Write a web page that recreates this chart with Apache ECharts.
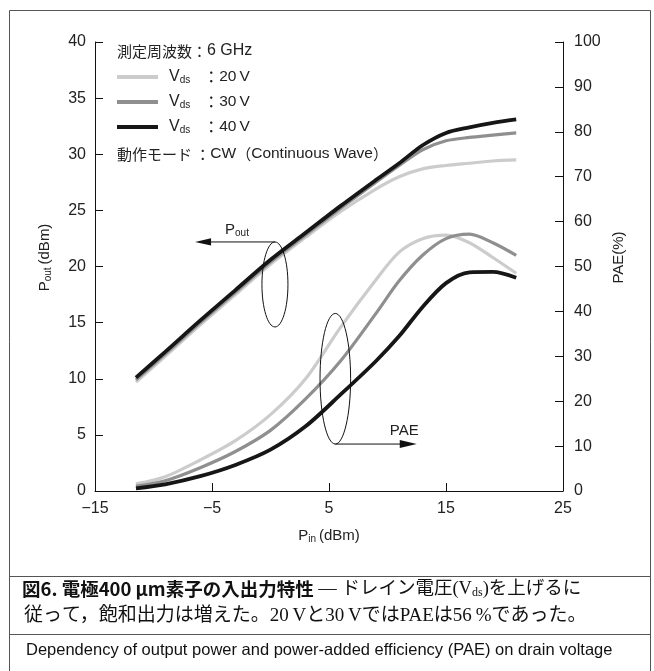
<!DOCTYPE html>
<html><head><meta charset="utf-8">
<script src="https://cdn.jsdelivr.net/npm/echarts@6/dist/echarts.min.js"></script>
<style>html,body{margin:0;padding:0;background:#fff}#c{width:654px;height:671px}</style>
</head><body><div id="c"></div>
<script>
// ---- data ----
const pin    = [-11.5, -9, -6, -3, 0, 3, 6, 9, 11, 13, 15, 17, 19, 21];
const pout20 = [9.7, 12.0, 14.8, 17.5, 20.2, 22.6, 24.9, 26.9, 28.0, 28.7, 29.0, 29.2, 29.4, 29.5];
const pout30 = [9.9, 12.2, 15.0, 17.7, 20.4, 22.8, 25.2, 27.5, 29.0, 30.4, 31.2, 31.5, 31.7, 31.9];
const pout40 = [10.1, 12.4, 15.2, 17.9, 20.6, 23.0, 25.4, 27.7, 29.2, 30.8, 31.9, 32.4, 32.8, 33.1];
const pae20  = [1.6, 3.2, 6.9, 11.2, 17.0, 25.0, 36.5, 47.0, 53.2, 56.2, 57.0, 55.3, 52.0, 48.5];
const pae30  = [1.1, 2.3, 5.2, 8.8, 13.5, 20.5, 29.0, 39.5, 46.8, 52.5, 56.2, 57.2, 55.3, 52.5];
const pae40  = [0.6, 1.5, 3.3, 5.8, 9.2, 14.4, 21.5, 28.9, 34.5, 41.0, 46.3, 48.7, 48.8, 47.5];
const seriesNames = ['20V', '30V', '40V'];
const xTickLabels = {'-15': '−15', '-5': '−5', '5': '5', '15': '15', '25': '25'};
const yLeftTicks  = [0, 5, 10, 15, 20, 25, 30, 35, 40];
const yRightTicks = [0, 10, 20, 30, 40, 50, 60, 70, 80, 90, 100];

const colors = {'20V': '#cccccc', '30V': '#8f8f8f', '40V': '#161616'};
const widths = {'20V': 3.2, '30V': 3.2, '40V': 3.8};
const latin = 'Liberation Sans, Arial, sans-serif';
const cjk = 'Noto Sans CJK JP, sans-serif';

const chart = echarts.init(document.getElementById('c'), null, {renderer: 'canvas'});

function mk(name, ys, yAxisIndex) {
  return {
    name, type: 'line', yAxisIndex, showSymbol: false, smooth: 0.3,
    data: pin.map((x, i) => [x, ys[i]]),
    lineStyle: {color: colors[name], width: widths[name]},
    itemStyle: {color: colors[name]},
    z: 2 + seriesNames.indexOf(name)
  };
}

const axisCommon = {
  axisLine: {show: true, onZero: false, lineStyle: {color: '#111', width: 1}},
  axisTick: {show: true, inside: true, length: 8, lineStyle: {color: '#111'}},
  splitLine: {show: false},
  axisLabel: {color: '#222', fontSize: 16, fontFamily: latin}
};

chart.setOption({
  animation: false,
  backgroundColor: '#fff',
  grid: {left: 95, right: 91, top: 42, bottom: 180},
  xAxis: Object.assign({}, axisCommon, {
    type: 'value', min: -15, max: 25, interval: 10,
    axisLabel: Object.assign({}, axisCommon.axisLabel, {margin: 10, formatter: v => xTickLabels[String(v)] ?? String(v)}),
    name: '{p|P}{s|in}{p|(dBm)}', nameLocation: 'middle', nameGap: 36,
    nameTextStyle: {color: '#222', rich: {
      p: {fontSize: 15, fontFamily: latin, color: '#222'},
      s: {fontSize: 10, fontFamily: latin, color: '#222', padding: [7, 3, 0, 0]}
    }}
  }),
  yAxis: [
    Object.assign({}, axisCommon, {
      type: 'value', min: 0, max: 40, interval: 5, position: 'left',
      axisLabel: Object.assign({}, axisCommon.axisLabel, {margin: 9, formatter: v => yLeftTicks.includes(v) ? String(v) : ''}),
      name: '{p|P}{s|out}{p|(dBm)}', nameLocation: 'middle', nameGap: 42, nameRotate: 90,
      nameTextStyle: {color: '#222', padding: [0, 0, 0, 18], rich: {
        p: {fontSize: 15, fontFamily: latin, color: '#222'},
        s: {fontSize: 10, fontFamily: latin, color: '#222', padding: [7, 3, 0, 0]}
      }}
    }),
    Object.assign({}, axisCommon, {
      type: 'value', min: 0, max: 100, interval: 10, position: 'right',
      axisLabel: Object.assign({}, axisCommon.axisLabel, {margin: 11, formatter: v => yRightTicks.includes(v) ? String(v) : ''}),
      name: 'PAE(%)', nameLocation: 'middle', nameGap: 43, nameRotate: 90,
      nameTextStyle: {color: '#222', fontSize: 15, fontFamily: latin, padding: [0, 0, 0, 18]}
    })
  ],
  legend: {
    orient: 'vertical', left: 112, top: 62, itemWidth: 41, itemHeight: 4, itemGap: 5, icon: 'rect',
    data: seriesNames,
    formatter: n => '{v|V}{s|ds}{c|：}{n|' + n.replace('V', '\u2009V') + '}',
    textStyle: {color: '#222', fontSize: 16, lineHeight: 20, rich: {
      v: {fontSize: 16, fontFamily: latin, color: '#222', padding: [0, 0, 0, 6]},
      s: {fontSize: 10, fontFamily: latin, color: '#222', padding: [7, 0, 0, 0]},
      c: {fontSize: 16, fontFamily: cjk, color: '#222', padding: [0, 0, 0, 13]},
      n: {fontSize: 15.5, fontFamily: latin, color: '#222'}
    }}
  },
  series: [
    mk('20V', pout20, 0), mk('30V', pout30, 0), mk('40V', pout40, 0),
    mk('20V', pae20, 1), mk('30V', pae30, 1), mk('40V', pae40, 1)
  ]
});

// ---- annotations anchored to data coordinates ----
function px(ai, x, y) { return chart.convertToPixel({xAxisIndex: 0, yAxisIndex: ai}, [x, y]); }
const ink = '#111';
const poutC = px(0, 0.38, 18.4);
const paeC = px(1, 5.54, 25.0);
const pr = {rx: 13, ry: 42.5};
const ar = {rx: 15.3, ry: 65.3};
const pTop = [poutC[0], poutC[1] - pr.ry];
const pTip = px(0, -6.45, 0); pTip[1] = pTop[1];
const aBot = [paeC[0], paeC[1] + ar.ry];
const aTip = [px(1, 12.5, 0)[0], aBot[1]];

const g = [
  {type: 'rect', shape: {x: 9.5, y: 10.5, width: 641, height: 720}, style: {fill: 'none', stroke: '#555', lineWidth: 1}, silent: true},
  // legend header / footer lines
  {type: 'text', left: 117, top: 43, style: {text: '{j|測定周波数：}{l|6 GHz}', rich: {
     j: {fontSize: 15, fontFamily: cjk, fill: '#222'}, l: {fontSize: 16, fontFamily: latin, fill: '#222'}}}},
  {type: 'text', left: 117, top: 146, style: {text: '{j|動作モード ：}{l|CW}{j|（}{l|Continuous Wave}{j|）}', rich: {
     j: {fontSize: 15, fontFamily: cjk, fill: '#222'}, l: {fontSize: 15.5, fontFamily: latin, fill: '#222'}}}},
  // Pout annotation
  {type: 'ellipse', shape: {cx: poutC[0], cy: poutC[1], rx: pr.rx, ry: pr.ry}, style: {fill: 'none', stroke: ink, lineWidth: 1}, z: 100},
  {type: 'line', shape: {x1: pTop[0], y1: pTop[1], x2: pTip[0] + 14, y2: pTip[1]}, style: {stroke: ink, lineWidth: 1}, z: 100},
  {type: 'polygon', shape: {points: [[pTip[0], pTip[1]], [pTip[0] + 16, pTip[1] - 3.6], [pTip[0] + 16, pTip[1] + 3.6]]}, style: {fill: ink}, z: 100},
  {type: 'text', x: pTip[0] + 30, y: pTop[1] - 21, style: {text: '{p|P}{s|out}', rich: {
     p: {fontSize: 15, fontFamily: latin, fill: '#222'},
     s: {fontSize: 10, fontFamily: latin, fill: '#222', padding: [7, 0, 0, 0]}}}, z: 100},
  // PAE annotation
  {type: 'ellipse', shape: {cx: paeC[0], cy: paeC[1], rx: ar.rx, ry: ar.ry}, style: {fill: 'none', stroke: ink, lineWidth: 1}, z: 100},
  {type: 'line', shape: {x1: aBot[0], y1: aBot[1], x2: aTip[0] - 14, y2: aBot[1]}, style: {stroke: ink, lineWidth: 1}, z: 100},
  {type: 'polygon', shape: {points: [[aTip[0], aTip[1]], [aTip[0] - 17, aTip[1] - 4], [aTip[0] - 17, aTip[1] + 4]]}, style: {fill: ink}, z: 100},
  {type: 'text', x: aTip[0] - 27, y: aBot[1] - 21, style: {text: 'PAE', font: '15px ' + latin, fill: '#222'}, z: 100},
  // caption
  {type: 'line', shape: {x1: 9, y1: 576.5, x2: 651, y2: 576.5}, style: {stroke: '#555', lineWidth: 1}},
  {type: 'text', left: 22, top: 580, style: {
     text: '{b|図6. 電極400 μm素子の入出力特性}{n| — ドレイン電圧(V}{s|ds}{n|)を上げるに}',
     rich: {
       b: {fontSize: 18.5, fontWeight: 'bold', fontFamily: cjk, fill: '#111'},
       n: {fontSize: 18.5, fontFamily: 'Liberation Serif, ' + cjk, fill: '#111'},
       s: {fontSize: 12, fontFamily: 'Liberation Serif, serif', fill: '#111', padding: [8, 0, 0, 0]}
     }}},
  {type: 'text', left: 24, top: 607, style: {text: '従って，飽和出力は増えた。20\u2009Vと30\u2009VではPAEは56\u2009%であった。', font: '19px Liberation Serif, ' + cjk, fill: '#111'}},
  {type: 'line', shape: {x1: 9, y1: 634.5, x2: 651, y2: 634.5}, style: {stroke: '#555', lineWidth: 1}},
  {type: 'text', left: 26, top: 642, style: {text: 'Dependency of output power and power-added efficiency (PAE) on drain voltage', font: '16.5px ' + latin, fill: '#111'}}
];
chart.setOption({graphic: g});
</script></body></html>
